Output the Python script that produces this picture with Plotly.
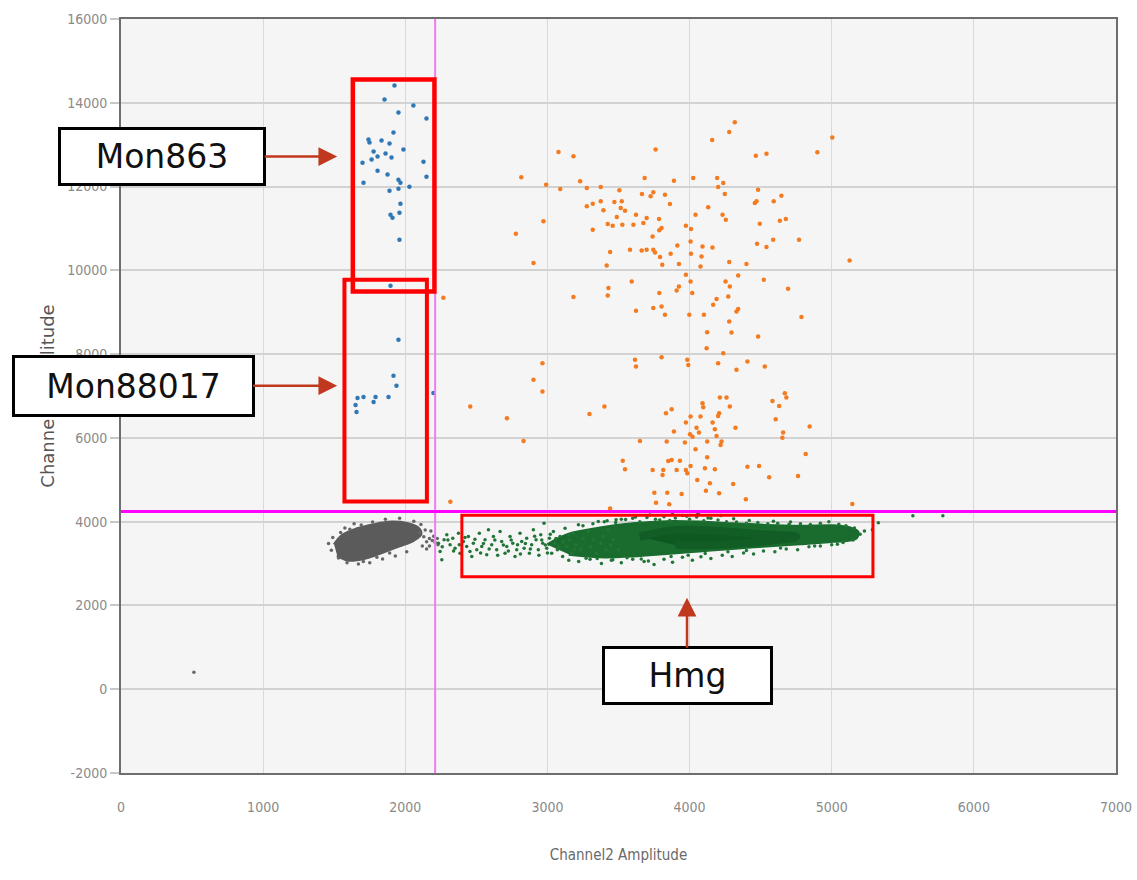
import plotly.graph_objects as go

# ---------------- data ----------------
mon863_x = [1924, 1854, 2057, 1952, 2149, 1917, 1741, 1748, 1833, 1889, 1987, 1777, 1861, 1805,
            1763, 1903, 1699, 2128, 1805, 1875, 2149, 1706, 1952, 1966, 2029, 1889, 1952, 1966,
            1896, 1910, 1959, 1959, 1896]
mon863_y = [14412, 14077, 13934, 13766, 13623, 13288, 13121, 13049, 13097, 13026, 12882, 12834,
            12787, 12715, 12643, 12691, 12571, 12595, 12380, 12285, 12237, 12093, 12165, 12093,
            11998, 11902, 11950, 11591, 11329, 11257, 11376, 10731, 9632]

mon88017_x = [1952, 1917, 1938, 1882, 1791, 1777, 1706, 1664, 1650, 1657, 2198]
mon88017_y = [8341, 7481, 7242, 6979, 6979, 6859, 6979, 6955, 6787, 6620, 7074]

double_x = [4318, 4279, 4159, 5004, 3761, 3078, 3183, 4466, 4541, 4899, 2816, 2991, 3090, 3230,
            3277, 3375, 3506, 3684, 3890, 4026, 4194, 4201, 4237, 3665, 3726, 3745, 3827, 3862,
            4248, 4482, 4459, 4471, 4592, 4646, 3277, 3319, 3375, 3394, 3471, 3523, 3516, 3546,
            3488, 3424, 3459, 3527, 3605, 3623, 3675, 3698, 3785, 3787, 3803, 3740, 3974, 4010,
            4042, 4131, 4232, 4255, 4494, 4635, 4677, 2972, 2778, 3319, 3581, 3663, 3698, 3745,
            3757, 3792, 3808, 3867, 3914, 4007, 4010, 4091, 4084, 4161, 4077, 3925, 3417, 3441,
            2902, 4279, 4400, 4475, 4541, 4588, 4770, 5126, 3974, 4007, 3925, 3909, 4019, 3787,
            3593, 3429, 3424, 3183, 3623, 3745, 3803, 3827, 3998, 4101, 4190, 4166, 4272, 4253,
            4283, 4342, 4522, 4693, 4330, 4342, 4279, 4295, 4124, 4787, 4482, 4120, 4237, 2965,
            2902, 2965, 3616, 3623, 3803, 3984, 3991, 4201, 4330, 4407, 4529, 2457, 2715, 3296,
            3401, 3834, 3874, 4091, 4096, 4213, 4260, 4283, 4208, 4201, 4077, 4007, 3974, 4049,
            4066, 4162, 4178, 4190, 4225, 4218, 4323, 4583, 4630, 4670, 4681, 4606, 4658, 4653,
            4845, 3890, 4003, 4021, 3967, 4042, 4124, 3839, 3651, 2832, 3530, 3546, 3874, 3932,
            3850, 3740, 3815, 3810, 3909, 3974, 3984, 4007, 4054, 4108, 4143, 4178, 4124, 4115,
            4208, 4307, 4407, 4489, 4560, 4763, 4817, 3752, 3843, 3944, 3764, 3857, 4396, 5145,
            3441, 2317, 2268]
double_y = [13535, 13304, 13113, 13169, 12882, 12826, 12723, 12738, 12786, 12818, 12221, 12045,
            11942, 12125, 11966, 11990, 11910, 12205, 12141, 12205, 12205, 11990, 12085, 11822,
            11767, 11862, 11806, 11583, 11822, 11926, 11607, 11647, 11647, 11783, 11528, 11591,
            11647, 11432, 11631, 11647, 11488, 11424, 11273, 11105, 11066, 11090, 11090, 11328,
            11129, 11249, 11225, 10954, 11010, 10810, 11066, 10986, 11328, 11504, 11328, 11209,
            11113, 11185, 11225, 11169, 10874, 10970, 10492, 10476, 10492, 10492, 10428, 10317,
            10133, 10396, 10595, 10691, 10396, 10571, 10333, 10548, 10094, 10149, 10117, 10436,
            10173, 10197, 10149, 10635, 10556, 10731, 10731, 10237, 9894, 9735, 9615, 9520, 9456,
            9456, 9735, 9576, 9400, 9361, 9034, 9098, 9138, 8938, 8938, 8938, 9313, 9177, 9377,
            9735, 9615, 9878, 9775, 9560, 9018, 9074, 8779, 8516, 8524, 8883, 8420, 8142, 8022,
            7783, 7385, 7106, 7863, 7703, 7927, 7863, 7743, 7783, 7624, 7823, 7703, 6747, 6469,
            6572, 6747, 6588, 6684, 6827, 6731, 6962, 6962, 6747, 6588, 6524, 6508, 6508, 6365,
            6245, 6126, 6365, 6206, 6046, 5911, 5831, 6245, 6883, 6763, 7066, 6962, 6445, 6126,
            6006, 6269, 6150, 6086, 6030, 5887, 5728, 5911, 5911, 5927, 5927, 5457, 5250, 5473,
            5457, 5449, 5234, 5234, 5114, 5234, 5234, 5154, 5329, 4995, 5273, 4915, 5250, 5536,
            4740, 4676, 4899, 5313, 5329, 5058, 5090, 5616, 4692, 4692, 4660, 4453, 4413, 4533,
            4421, 4317, 4477, 9345]

# dense negative cluster (grey): outline of the solid core + scattered droplets
neg_core_x = [1500, 1560, 1660, 1780, 1900, 2010, 2090, 2110, 2060, 1960, 1840, 1720, 1600, 1520]
neg_core_y = [3450, 3680, 3830, 3930, 3990, 3960, 3850, 3700, 3560, 3420, 3270, 3130, 3080, 3200]
neg_x = [1460, 1480, 1490, 1530, 1545, 1590, 1610, 1670, 1690, 1750, 1770, 1840, 1860, 1930,
         1960, 2010, 2060, 2120, 2110, 2150, 2140, 2170, 2170, 2180, 2200, 2210, 2190, 2150,
         2225, 2230, 2130, 2100, 1575, 1640, 1705, 1800, 1890, 513]
neg_y = [3480, 3320, 3620, 3130, 3740, 3020, 3820, 2990, 3920, 3020, 3990, 3110, 4060, 3180,
         4080, 3280, 4010, 3420, 3930, 3520, 3800, 3600, 3420, 3780, 3650, 3500, 3550, 3350,
         3600, 3450, 3640, 3740, 3850, 3950, 3050, 3150, 3250, 406]

# Hmg cluster (green): solid band outline, darker centre, scattered droplets
hmg_band_x = [3000, 3150, 3370, 3600, 3840, 4070, 4300, 4540, 4780, 5010, 5130, 5185,
              5170, 5010, 4780, 4540, 4300, 4070, 3840, 3600, 3370, 3150]
hmg_band_y = [3450, 3700, 3850, 3950, 4000, 3990, 3950, 3910, 3890, 3900, 3850, 3750,
              3600, 3530, 3470, 3420, 3360, 3300, 3240, 3180, 3160, 3220]
hmg_core_x = [3650, 3900, 4200, 4500, 4750, 4500, 4200, 3900]
hmg_core_y = [3640, 3800, 3780, 3700, 3640, 3520, 3450, 3440]
hmg_x = [2233, 2245, 2257, 2273, 2292, 2315, 2334, 2350, 2374, 2385, 2409, 2432, 2444, 2468,
         2479, 2503, 2521, 2538, 2561, 2573, 2585, 2608, 2620, 2643, 2667, 2678, 2702, 2714,
         2737, 2756, 2772, 2784, 2807, 2819, 2836, 2854, 2873, 2889, 2901, 2920, 2936, 2953,
         2967, 2976, 2995, 3014, 3030, 3042, 3054, 3070, 3089, 3107, 3124, 3136, 3154, 3171,
         3182, 3201, 3218, 3234, 3253, 3272, 3288, 3304, 3323, 3342, 3358, 3375, 3393, 3412,
         3429, 3445, 3464, 3483, 3499,
         2260, 2300, 2340, 2380, 2420, 2455, 2490, 2530, 2550, 2590, 2630, 2650, 2690, 2725,
         2745, 2790, 2810, 2845, 2880, 2910, 2940, 2960, 2985, 3000, 3020, 3060, 3080, 3110,
         3150, 3190,
         3250, 3320, 3400, 3480, 3550, 3600, 3650, 3700, 3760, 3820, 3860, 3900, 3950, 4000,
         4050, 4100, 4150, 4200, 4260, 4330, 4400, 4480, 4550, 4620, 4700, 4780, 4850, 4920,
         4980, 5050, 5100, 5160,
         3150, 3220, 3300, 3380, 3450, 3520, 3600, 3680, 3750, 3820, 3880, 3950, 4020, 4080,
         4150, 4230, 4300, 4380, 4450, 4520, 4600, 4680, 4760, 4840, 4920, 5000, 5080, 5150,
         5200, 5230, 5286, 5328, 5571, 5782,
         3420, 3520, 3620, 3720, 3790, 3880, 3980, 4060, 4130, 4220, 4310, 4420, 4590, 4710,
         3350, 3460, 3560, 3660, 3710, 3870, 3990, 4110, 4270, 4400, 4640, 4880, 5040]
hmg_y = [3487, 3288, 3089, 3566, 3686, 3447, 3606, 3367, 3726, 3248, 3527, 3407, 3646, 3168,
         3487, 3328, 3726, 3407, 3566, 3208, 3805, 3447, 3646, 3328, 3766, 3527, 3248, 3407,
         3646, 3487, 3168, 3328, 3726, 3527, 3367, 3606, 3248, 3447, 3805, 3566, 3328, 3686,
         3487, 3965, 3367, 3606, 3248, 3766, 3487, 3328, 3646, 3168, 3845, 3407, 3566, 3248,
         3726, 3447, 3925, 3328, 3606, 3129, 3766, 3407, 3566, 3248, 4004, 3487, 3646, 3328,
         3805, 3447, 3566, 4044, 3328,
         3400, 3560, 3300, 3450, 3620, 3290, 3580, 3250, 3480, 3350, 3560, 3200, 3440, 3300,
         3560, 3450, 3230, 3480, 3350, 3650, 3200, 3560, 3440, 3250, 3700, 3600, 3400, 3520,
         3680, 3350,
         3900, 3950, 4000, 3980, 4050, 4080, 4000, 4100, 4060, 4120, 4030, 4090, 4150, 4060,
         4110, 4020, 4080, 4040, 4000, 3990, 3960, 3980, 3950, 3960, 3940, 3950, 3930, 3960,
         4000, 3940, 3900, 3850,
         3080, 3050, 3100, 3000, 3080, 3020, 3100, 3050, 2980, 3100, 3030, 3150, 3080, 3160,
         3120, 3200, 3170, 3250, 3230, 3300, 3280, 3350, 3330, 3400, 3420, 3450, 3500, 3560,
         3700, 3780, 3806, 3973, 4140, 4140,
         4020, 4060, 4110, 4160, 4040, 4180, 4130, 4200, 4090, 4150, 4070, 4030, 4010, 3990,
         3120, 3090, 3140, 3110, 3060, 3170, 3200, 3240, 3280, 3310, 3370, 3420, 3460]

# thresholds and gates
thr_ch2 = 2210
thr_ch1 = 4243
gate_mon863 = (1631, 2205, 9492, 14556)
gate_mon88017 = (1572, 2152, 4482, 9778)
gate_hmg = (2398, 5290, 2683, 4152)

x_ticks = [0, 1000, 2000, 3000, 4000, 5000, 6000, 7000]
y_ticks = [-2000, 0, 2000, 4000, 6000, 8000, 10000, 12000, 14000, 16000]

# ---------------- figure ----------------
fig = go.Figure()

fig.add_trace(go.Scatter(x=neg_core_x, y=neg_core_y, fill="toself", mode="lines",
                         line=dict(color="#5b5b5b", width=3, shape="spline"),
                         fillcolor="#5b5b5b", hoverinfo="skip", showlegend=False))
fig.add_trace(go.Scatter(x=neg_x, y=neg_y, mode="markers",
                         marker=dict(color="#666666", size=3.5), showlegend=False))

fig.add_trace(go.Scatter(x=hmg_band_x, y=hmg_band_y, fill="toself", mode="lines",
                         line=dict(color="#1a6b2e", width=3, shape="spline"),
                         fillcolor="#1a6b2e", hoverinfo="skip", showlegend=False))
fig.add_trace(go.Scatter(x=hmg_core_x, y=hmg_core_y, fill="toself", mode="lines",
                         line=dict(color="#115d25", width=8, shape="spline"),
                         fillcolor="#0e5822", hoverinfo="skip", showlegend=False))
fig.add_trace(go.Scatter(x=hmg_x, y=hmg_y, mode="markers",
                         marker=dict(color="#217536", size=3.5), showlegend=False))

fig.add_trace(go.Scatter(x=double_x, y=double_y, mode="markers",
                         marker=dict(color="#f47b20", size=4.5), showlegend=False))
fig.add_trace(go.Scatter(x=mon863_x, y=mon863_y, mode="markers",
                         marker=dict(color="#2f78b5", size=4.5), showlegend=False))
fig.add_trace(go.Scatter(x=mon88017_x, y=mon88017_y, mode="markers",
                         marker=dict(color="#2f78b5", size=4.5), showlegend=False))

# threshold lines
fig.add_shape(type="line", xref="x", yref="paper", x0=thr_ch2, x1=thr_ch2, y0=0, y1=1,
              line=dict(color="#f07cf0", width=2))
fig.add_shape(type="line", xref="paper", yref="y", x0=0, x1=1, y0=thr_ch1, y1=thr_ch1,
              line=dict(color="#ff00ff", width=3))

# gates
for (gx0, gx1, gy0, gy1), w in [(gate_mon863, 4.5), (gate_mon88017, 4), (gate_hmg, 3)]:
    fig.add_shape(type="rect", xref="x", yref="y", x0=gx0, x1=gx1, y0=gy0, y1=gy1,
                  line=dict(color="#ff0000", width=w), fillcolor="rgba(0,0,0,0)")

label_font = dict(family="DejaVu Sans", size=33, color="#111111")
arrow_col = "#c0391f"
fig.add_annotation(x=1521, y=12717, xref="x", yref="y", text="Mon863", showarrow=True,
                   ax=-175, ay=0, axref="pixel", ayref="pixel",
                   arrowhead=2, arrowsize=1.5, arrowwidth=2.5, arrowcolor=arrow_col,
                   font=label_font, bgcolor="white", bordercolor="black", borderwidth=3,
                   borderpad=1, width=200, height=51)
fig.add_annotation(x=1521, y=7246, xref="x", yref="y", text="Mon88017", showarrow=True,
                   ax=-204, ay=0, axref="pixel", ayref="pixel",
                   arrowhead=2, arrowsize=1.5, arrowwidth=2.5, arrowcolor=arrow_col,
                   font=label_font, bgcolor="white", bordercolor="black", borderwidth=3,
                   borderpad=1, width=235, height=54)
fig.add_annotation(x=3982, y=2181, xref="x", yref="y", text="Hmg", showarrow=True,
                   ax=0, ay=78, axref="pixel", ayref="pixel",
                   arrowhead=2, arrowsize=1.5, arrowwidth=2.5, arrowcolor=arrow_col,
                   font=label_font, bgcolor="white", bordercolor="black", borderwidth=3,
                   borderpad=1, width=163, height=51)

tick_font = dict(family="Liberation Sans Narrow, DejaVu Sans Condensed, Arial Narrow, sans-serif",
                 size=14, color="#8a8a8a")

fig.update_layout(
    width=1137, height=880, autosize=False,
    margin=dict(l=121, r=21, t=19, b=107),
    paper_bgcolor="white", plot_bgcolor="#f5f5f5",
    showlegend=False,
    xaxis=dict(range=[0, 7000], tickvals=x_ticks, ticktext=[str(v) for v in x_ticks],
               showgrid=True, gridcolor="#d9d9d9", gridwidth=1, zeroline=False,
               showline=True, linecolor="#6e6e6e", linewidth=2, mirror=True,
               ticks="", tickfont=tick_font, ticklabelstandoff=20, automargin=False,
               title=dict(text="Channel2 Amplitude", standoff=36,
                          font=dict(family="Liberation Sans Narrow, DejaVu Sans Condensed, sans-serif",
                                    size=15, color="#6a6a6a"))),
    yaxis=dict(range=[-2000, 16000], tickvals=y_ticks, ticktext=[str(v) for v in y_ticks],
               showgrid=True, gridcolor="#d2d2d2", gridwidth=2, zeroline=False,
               showline=True, linecolor="#6e6e6e", linewidth=2, mirror=True,
               ticks="outside", ticklen=9, tickcolor="#c8c8c8", tickwidth=2,
               tickfont=tick_font, automargin=False,
               title=dict(text="Channel1 Amplitude", standoff=8,
                          font=dict(family="DejaVu Sans", size=18, color="#555555"))),
)

fig.write_html("out.html", config={"displayModeBar": False, "responsive": False},
               post_script="document.body.style.margin='0';")
